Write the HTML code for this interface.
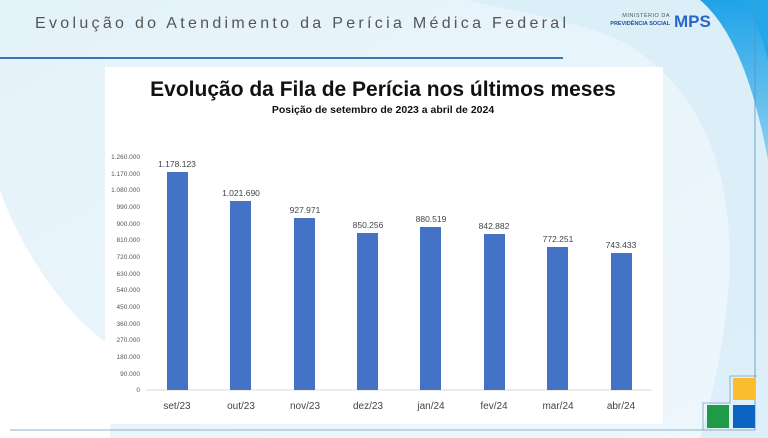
<!DOCTYPE html>
<html><head><meta charset="utf-8"><style>
html,body{margin:0;padding:0;background:#fff}
svg{display:block}
</style></head><body>
<svg width="768" height="438" viewBox="0 0 768 438" xmlns="http://www.w3.org/2000/svg" font-family="Liberation Sans, sans-serif">
<defs>
<linearGradient id="bg" x1="0" y1="0" x2="1" y2="1">
<stop offset="0" stop-color="#e4f2fa"/><stop offset="1" stop-color="#eef7fc"/>
</linearGradient>
<linearGradient id="bl" x1="0" y1="0" x2="0" y2="1">
<stop offset="0" stop-color="#1ea3e8"/><stop offset="1" stop-color="#8dd0f2"/>
</linearGradient>
</defs>
<rect width="768" height="438" fill="#fff"/>
<path d="M0 0 H768 V438 H110 V345 C70 320 20 250 0 190 Z" fill="url(#bg)"/>
<path d="M470 0 H768 V438 H700 C740 300 760 120 620 40 C560 15 500 10 470 0Z" fill="#d6ecf8" opacity="0.7"/>
<path d="M700 0 H768 V160 C755 90 735 30 700 0Z" fill="url(#bl)"/>
<path d="M740 0 H768 V60 C760 30 752 10 740 0Z" fill="#22a7ea"/>
<text x="35" y="28" font-size="16" fill="#555" letter-spacing="3.3">Evolução do Atendimento da Perícia Médica Federal</text>
<text x="670" y="17" font-size="5.5" fill="#555" text-anchor="end" letter-spacing="0.5">MINISTÉRIO DA</text>
<text x="670" y="25" font-size="5.5" fill="#1e4f8f" text-anchor="end" font-weight="bold">PREVIDÊNCIA SOCIAL</text>
<text x="674" y="27" font-size="17" fill="#2a66c8" font-weight="bold">MPS</text>
<line x1="0" y1="58" x2="563" y2="58" stroke="#3a78b0" stroke-width="2"/>
<line x1="10" y1="430" x2="755" y2="430" stroke="#8fb0c8" stroke-width="1"/>
<line x1="755" y1="0" x2="755" y2="430" stroke="#5a90c0" stroke-width="0.8"/>
<rect x="105" y="67" width="558" height="357" fill="#fff"/>
<text x="383" y="96" font-size="21" font-weight="bold" fill="#111" text-anchor="middle">Evolução da Fila de Perícia nos últimos meses</text>
<text x="383" y="113" font-size="10.5" font-weight="bold" fill="#111" text-anchor="middle">Posição de setembro de 2023 a abril de 2024</text>
<g font-size="6.5" fill="#555" text-anchor="end">
<text x="140" y="392">0</text><text x="140" y="376">90.000</text><text x="140" y="359">180.000</text><text x="140" y="342">270.000</text><text x="140" y="326">360.000</text><text x="140" y="309">450.000</text><text x="140" y="292">540.000</text><text x="140" y="276">630.000</text><text x="140" y="259">720.000</text><text x="140" y="242">810.000</text><text x="140" y="226">900.000</text><text x="140" y="209">990.000</text><text x="140" y="192">1.080.000</text><text x="140" y="176">1.170.000</text><text x="140" y="159">1.260.000</text>
</g>
<line x1="146" y1="390" x2="652" y2="390" stroke="#d9d9d9" stroke-width="1"/>
<g fill="#4472c4">
<rect x="167" y="172" width="21" height="218"/>
<rect x="230" y="201" width="21" height="189"/>
<rect x="294" y="218" width="21" height="172"/>
<rect x="357" y="233" width="21" height="157"/>
<rect x="420" y="227" width="21" height="163"/>
<rect x="484" y="234" width="21" height="156"/>
<rect x="547" y="247" width="21" height="143"/>
<rect x="611" y="253" width="21" height="137"/>
</g>
<g font-size="8.5" fill="#444" text-anchor="middle">
<text x="177" y="167">1.178.123</text><text x="241" y="196">1.021.690</text><text x="305" y="213">927.971</text><text x="368" y="228">850.256</text><text x="431" y="222">880.519</text><text x="494" y="229">842.882</text><text x="558" y="242">772.251</text><text x="621" y="248">743.433</text>
</g>
<g font-size="10" fill="#444" text-anchor="middle">
<text x="177" y="409">set/23</text><text x="241" y="409">out/23</text><text x="305" y="409">nov/23</text><text x="368" y="409">dez/23</text><text x="431" y="409">jan/24</text><text x="494" y="409">fev/24</text><text x="558" y="409">mar/24</text><text x="621" y="409">abr/24</text>
</g>
<path d="M703 430 V403 H730 V376 H757" fill="none" stroke="#7aa0c0" stroke-width="0.8"/>
<rect x="733" y="378" width="22" height="22" fill="#f9bd2e"/>
<rect x="707" y="405" width="22" height="23" fill="#1f9a47"/>
<rect x="733" y="405" width="22" height="23" fill="#0b63c4"/>
</svg>
</body></html>
